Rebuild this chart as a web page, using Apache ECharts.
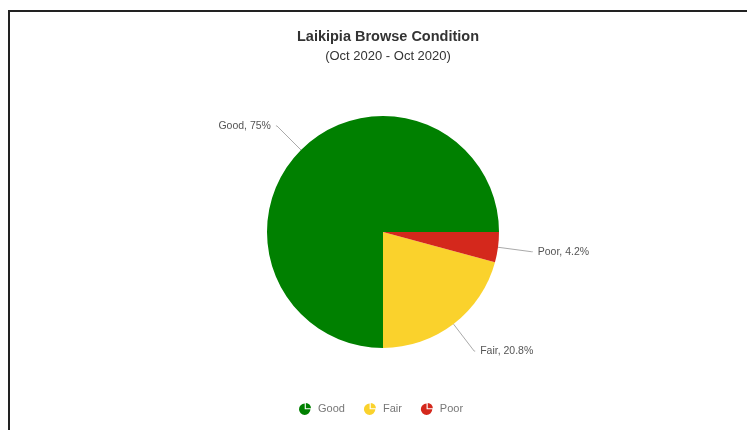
<!DOCTYPE html>
<html>
<head>
<meta charset="utf-8">
<script src="https://cdn.jsdelivr.net/npm/echarts@6/dist/echarts.min.js"></script>
<style>
  html, body { margin: 0; padding: 0; background: #fff; }
  #chart { width: 747px; height: 430px; }
</style>
</head>
<body>
<div id="chart"></div>
<script>
// Browse condition shares for Laikipia
const categories = ['Good', 'Fair', 'Poor'];
const shares = [75, 20.8, 4.2];
const colors = ['#008000', '#fad22c', '#d4281c'];

// pie-shaped legend marker
const pieIcon = 'path://M10 11 L10 1 A10 10 0 1 0 20 11 Z M12 9 L12 0 A9 9 0 0 1 21 9 Z';

const chart = echarts.init(document.getElementById('chart'), null, { renderer: 'canvas' });

chart.setOption({
  animation: false,
  backgroundColor: '#fff',
  textStyle: { fontFamily: 'Liberation Sans, Arial, sans-serif' },
  graphic: [{
    type: 'rect',
    shape: { x: 9, y: 11, width: 800, height: 500 },
    style: { fill: 'none', stroke: '#222', lineWidth: 2 },
    silent: true
  }],
  title: {
    text: 'Laikipia Browse Condition',
    subtext: '(Oct 2020 - Oct 2020)',
    left: 383,
    textAlign: 'center',
    top: 24,
    itemGap: 6,
    textStyle: { fontSize: 14.5, fontWeight: 'bold', color: '#333' },
    subtextStyle: { fontSize: 13, color: '#333' }
  },
  legend: {
    bottom: 10,
    left: 294,
    itemWidth: 12,
    itemHeight: 12,
    itemGap: 19,
    icon: pieIcon,
    textStyle: { fontSize: 11, color: '#777', padding: [0, 0, 0, 2] },
    data: categories
  },
  series: [{
    type: 'pie',
    center: [383, 232],
    radius: 116,
    startAngle: 0,
    clockwise: false,
    data: categories.map((name, i) => ({
      name: name,
      value: shares[i],
      itemStyle: { color: colors[i] }
    })),
    label: {
      formatter: p => p.name + ', ' + p.value + '%',
      fontSize: 10.5,
      color: '#555'
    },
    labelLine: {
      length: 34,
      length2: 1,
      lineStyle: { color: '#aaa', width: 1 }
    },
    emphasis: { disabled: true }
  }]
});
</script>
</body>
</html>
